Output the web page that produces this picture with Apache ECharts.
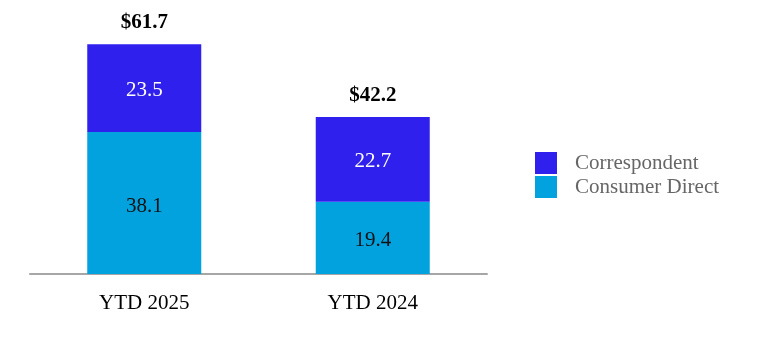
<!DOCTYPE html>
<html>
<head>
<meta charset="utf-8">
<script src="https://cdn.jsdelivr.net/npm/echarts@6/dist/echarts.min.js"></script>
<style>html,body{margin:0;padding:0;background:#fff;}#c{width:768px;height:344px;}</style>
</head>
<body>
<div id="c"></div>
<script>
var categories = ['YTD 2025', 'YTD 2024'];
var consumerDirect = [38.1, 19.4];
var correspondent = [23.5, 22.7];
var totals = [61.7, 42.2];

var chart = echarts.init(document.getElementById('c'), null, {renderer: 'canvas'});
var font = '"Liberation Serif", "Times New Roman", serif';
chart.setOption({
  animation: false,
  textStyle: {fontFamily: font},
  grid: {left: 30, right: 281, top: 44, bottom: 70},
  legend: {
    orient: 'vertical', left: 535, top: 152, padding: 0,
    itemWidth: 22, itemHeight: 22, itemGap: 2,
    icon: 'rect',
    data: ['Correspondent', 'Consumer Direct'],
    textStyle: {fontFamily: font, fontSize: 21, color: '#666666', padding: [0, 0, 0, 13]}
  },
  xAxis: {
    type: 'category', data: categories,
    axisLine: {lineStyle: {color: '#a6a6a6', width: 2}},
    axisTick: {show: false},
    axisLabel: {fontFamily: font, fontSize: 21, color: '#000', margin: 19}
  },
  yAxis: {type: 'value', min: 0, max: 61.7, show: false, splitLine: {show: false}},
  series: [
    {
      name: 'Consumer Direct', type: 'bar', stack: 's', barWidth: 114,
      data: consumerDirect,
      itemStyle: {color: '#02A2DF'},
      label: {show: true, position: 'inside', offset: [0, 3], fontFamily: font, fontSize: 21, color: '#111'}
    },
    {
      name: 'Correspondent', type: 'bar', stack: 's', barWidth: 114,
      data: correspondent,
      itemStyle: {color: '#2F20EE'},
      label: {show: true, position: 'inside', offset: [0, 2], fontFamily: font, fontSize: 21, color: '#ffffff'}
    },
    {
      name: 'Total', type: 'bar', stack: 's', barWidth: 114,
      data: totals.map(function(){ return 0; }),
      itemStyle: {color: 'rgba(0,0,0,0)'},
      label: {
        show: true, position: 'top', distance: 11,
        fontFamily: font, fontSize: 21, fontWeight: 'bold', color: '#000',
        formatter: function(p){ return '$' + totals[p.dataIndex].toFixed(1); }
      }
    }
  ]
});
</script>
</body>
</html>
